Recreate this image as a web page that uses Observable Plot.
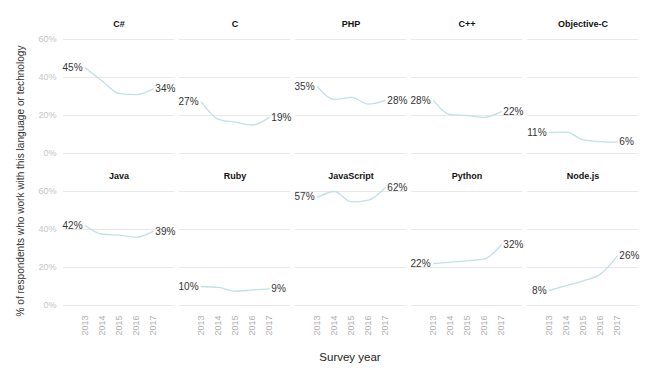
<!DOCTYPE html>
<html>
<head>
<meta charset="utf-8">
<script src="https://cdn.jsdelivr.net/npm/d3@7"></script>
<script src="https://cdn.jsdelivr.net/npm/@observablehq/plot@0.6"></script>
<style>
  html, body { margin: 0; padding: 0; background: #fff; }
  #wrap { position: relative; width: 650px; height: 372px; font-family: "Liberation Sans", Arial, sans-serif; }
  #ylab { position: absolute; left: 20px; top: 181px; transform: translate(-50%, -50%) rotate(-90deg); white-space: nowrap; font-size: 10.1px; color: #333; }
  #xlab { position: absolute; left: 350px; top: 357px; transform: translate(-50%, -50%); white-space: nowrap; font-size: 11.5px; color: #222; }
</style>
</head>
<body>
<div id="wrap">
  <div id="chart"></div>
  <div id="ylab">% of respondents who work with this language or technology</div>
  <div id="xlab">Survey year</div>
</div>
<script>
const years = [2013, 2014, 2015, 2016, 2017];
const languages = ["C#", "C", "PHP", "C++", "Objective-C", "Java", "Ruby", "JavaScript", "Python", "Node.js"];
const csharp     = [45, 38, 31.5, 31, 34];
const cLang      = [27, 18, 16.5, 15, 19];
const php        = [35, 28.5, 29.5, 26, 28];
const cpp        = [28, 20.5, 20, 19, 22];
const objc       = [11, 11.2, 7.2, 6.3, 6];
const java       = [42, 37.5, 37, 36, 39];
const ruby       = [10, 9.5, 7.5, 8.2, 8.8];
const javascript = [57, 60, 54.5, 55.5, 62];
const python     = [22, 22.8, 23.5, 24.5, 32];
const nodejs     = [8, 10.5, 13, 16.5, 26];
const yTicks = [0, 20, 40, 60];

const seriesList = [csharp, cLang, php, cpp, objc, java, ruby, javascript, python, nodejs];
const data = [];
languages.forEach((lang, i) => {
  years.forEach((yr, j) => {
    data.push({lang, col: i % 5, row: Math.floor(i / 5), year: yr, value: seriesList[i][j]});
  });
});
const titles = languages.map((lang, i) => ({lang, col: i % 5, row: Math.floor(i / 5)}));
const firsts = data.filter(d => d.year === years[0]);
const lasts = data.filter(d => d.year === years[years.length - 1]);
const fmt = v => Math.round(v) + "%";

const chart = Plot.plot({
  width: 650,
  height: 372,
  marginTop: 39,
  marginBottom: 67,
  marginLeft: 63,
  marginRight: 12,
  style: {fontFamily: "'Liberation Sans', Arial, sans-serif", background: "#fff"},
  fx: {domain: [0, 1, 2, 3, 4], paddingInner: 0.045, paddingOuter: 0, axis: null},
  fy: {domain: [0, 1], paddingInner: 0.25, paddingOuter: 0, axis: null},
  x: {domain: [2011.7, 2018.25], ticks: years, tickFormat: d => String(d), tickRotate: -90, tickSize: 0, tickPadding: 10, label: null},
  y: {domain: [0, 60], ticks: yTicks, tickFormat: d => d + "%", tickSize: 0, tickPadding: 7, label: null},
  marks: [
    Plot.gridY(yTicks, {fx: null, fy: null, stroke: "#e8e8e8", strokeOpacity: 1}),
    Plot.axisX({ticks: years, tickFormat: d => String(d), tickRotate: -90, tickSize: 0, tickPadding: 10, fill: "#b0b0b0", fontSize: 9, label: null}),
    Plot.axisY({ticks: yTicks, tickFormat: d => d + "%", tickSize: 0, tickPadding: 7, fill: "#c4c4c4", fontSize: 9, label: null}),
    Plot.line(data, {x: "year", y: "value", fx: "col", fy: "row", z: "lang", stroke: "#c2dfe8", strokeWidth: 1.3, curve: "monotone-x"}),
    Plot.text(firsts, {x: "year", y: "value", fx: "col", fy: "row", text: d => fmt(d.value), textAnchor: "end", dx: -3, fontSize: 10, fill: "#333"}),
    Plot.text(lasts, {x: "year", y: "value", fx: "col", fy: "row", text: d => fmt(d.value), textAnchor: "start", dx: 2, fontSize: 10, fill: "#333"}),
    Plot.text(titles, {fx: "col", fy: "row", text: "lang", frameAnchor: "top", dy: -19, fontSize: 9, fontWeight: "bold", fill: "#111"})
  ]
});
document.getElementById("chart").appendChild(chart);
</script>
</body>
</html>
